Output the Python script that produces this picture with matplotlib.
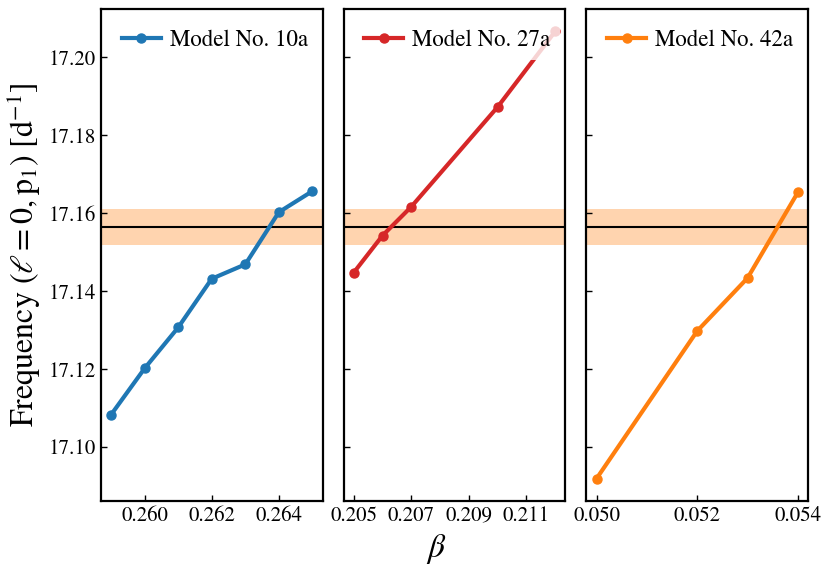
import matplotlib
matplotlib.use("Agg")
import matplotlib.pyplot as plt

# data
beta_10a = [0.259, 0.260, 0.261, 0.262, 0.263, 0.264, 0.265]
freq_10a = [17.1083, 17.1202, 17.1307, 17.1432, 17.1469, 17.1603, 17.1657]
beta_27a = [0.205, 0.206, 0.207, 0.210, 0.212]
freq_27a = [17.1448, 17.1543, 17.1617, 17.1873, 17.2067]
beta_42a = [0.050, 0.052, 0.053, 0.054]
freq_42a = [17.0919, 17.1298, 17.1434, 17.1654]
labels = ["Model No. 10a", "Model No. 27a", "Model No. 42a"]
colors = ["#1f77b4", "#d62728", "#ff7f0e"]
xticks = [[0.260, 0.262, 0.264], [0.205, 0.207, 0.209, 0.211], [0.050, 0.052, 0.054]]
yticks = [17.10, 17.12, 17.14, 17.16, 17.18, 17.20]
obs_freq = 17.1564
obs_err = 0.0046

plt.rcParams['font.family'] = ['STIXGeneral', 'DejaVu Serif']
plt.rcParams['mathtext.fontset'] = 'stix'

fig = plt.figure(figsize=(8.31, 5.75), dpi=100)
left, right = 0.1215, 0.9723
bottom, top = 0.1287, 0.9843
gap = 0.0255
w = (right - left - 2 * gap) / 3
axes = []
series = [(beta_10a, freq_10a), (beta_27a, freq_27a), (beta_42a, freq_42a)]
for i in range(3):
    if i == 0:
        ax = fig.add_axes([left + i * (w + gap), bottom, w, top - bottom])
    else:
        ax = fig.add_axes([left + i * (w + gap), bottom, w, top - bottom], sharey=axes[0])
    axes.append(ax)
    x, y = series[i]
    ax.axhspan(obs_freq - obs_err, obs_freq + obs_err, color="#ff7f0e", alpha=0.33, lw=0, zorder=1)
    ax.axhline(obs_freq, color="black", lw=1.5, zorder=2)
    ax.plot(x, y, "-o", color=colors[i], lw=3, ms=6.5, label=labels[i], zorder=3)
    ax.set_xticks(xticks[i])
    ax.set_xticklabels(["%.3f" % t for t in xticks[i]])
    ax.tick_params(direction="in", length=4, width=1, labelsize=15)
    for s in ax.spines.values():
        s.set_linewidth(1.6)
    leg = ax.legend(loc="upper left", fontsize=16.5, frameon=True, handlelength=1.7,
                    borderaxespad=0.5, handletextpad=0.4)
    leg.get_frame().set_edgecolor("none")
    leg.get_frame().set_alpha(0.8)
    if i > 0:
        plt.setp(ax.get_yticklabels(), visible=False)

axes[0].set_yticks(yticks)
axes[0].set_yticklabels(["%.2f" % t for t in yticks])
axes[0].set_ylabel(r"Frequency $(\ell = 0, \mathrm{p}_1)$ [d$^{-1}$]", fontsize=23, labelpad=4)
fig.text(0.525, 0.045, r"$\beta$", fontsize=24, ha="center", va="center")

fig.savefig("out.png", dpi=100)
